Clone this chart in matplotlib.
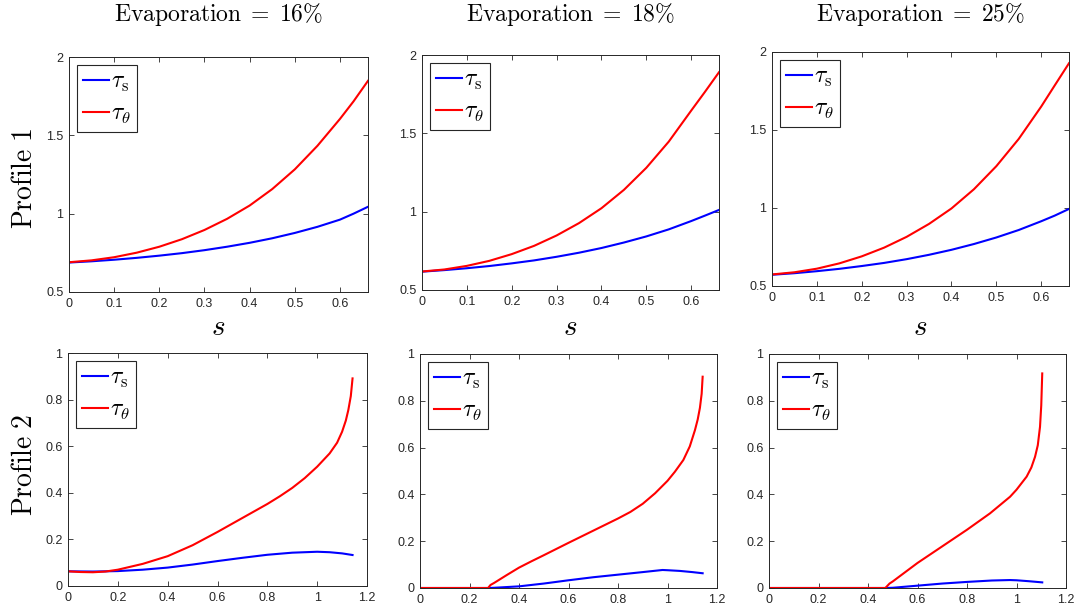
import matplotlib
matplotlib.use("Agg")
import matplotlib.pyplot as plt

plt.rcParams["mathtext.fontset"] = "cm"
plt.rcParams["font.family"] = ["Liberation Sans", "DejaVu Sans"]

evaporation = ["16", "18", "25"]
row_labels = ["Profile 1", "Profile 2"]

# Profile 1 (top row), s from 0 to 0.662
p1_x = [0, 0.05, 0.1, 0.15, 0.2, 0.25, 0.3, 0.35, 0.4, 0.45, 0.5, 0.55, 0.6, 0.63, 0.662]
p1_16_theta = [0.690, 0.702, 0.722, 0.751, 0.789, 0.837, 0.896, 0.967, 1.052, 1.157, 1.283, 1.433, 1.605, 1.717, 1.848]
p1_16_s = [0.688, 0.696, 0.706, 0.718, 0.732, 0.748, 0.767, 0.789, 0.814, 0.843, 0.877, 0.916, 0.962, 1.000, 1.044]
p1_18_theta = [0.618, 0.631, 0.654, 0.686, 0.729, 0.782, 0.848, 0.927, 1.022, 1.139, 1.280, 1.447, 1.645, 1.762, 1.890]
p1_18_s = [0.617, 0.627, 0.639, 0.653, 0.670, 0.689, 0.712, 0.738, 0.768, 0.803, 0.842, 0.887, 0.940, 0.974, 1.011]
p1_25_theta = [0.574, 0.588, 0.611, 0.645, 0.690, 0.746, 0.815, 0.898, 0.997, 1.120, 1.268, 1.443, 1.650, 1.785, 1.928]
p1_25_s = [0.572, 0.582, 0.595, 0.610, 0.628, 0.648, 0.672, 0.700, 0.732, 0.769, 0.811, 0.859, 0.915, 0.951, 0.994]

# Profile 2 (bottom row)
p2_16_theta_x = [0, 0.05, 0.1, 0.15, 0.2, 0.3, 0.4, 0.5, 0.6, 0.7, 0.8, 0.85, 0.9, 0.95, 1.0, 1.05, 1.08, 1.1, 1.115, 1.125, 1.135, 1.142]
p2_16_theta = [0.063, 0.060, 0.059, 0.062, 0.070, 0.095, 0.128, 0.175, 0.232, 0.292, 0.352, 0.385, 0.421, 0.463, 0.512, 0.569, 0.615, 0.662, 0.710, 0.755, 0.815, 0.891]
p2_16_s_x = [0, 0.1, 0.2, 0.3, 0.4, 0.5, 0.6, 0.7, 0.8, 0.9, 1.0, 1.05, 1.1, 1.142]
p2_16_s = [0.063, 0.062, 0.064, 0.070, 0.079, 0.092, 0.107, 0.121, 0.134, 0.143, 0.147, 0.145, 0.140, 0.133]

p2_18_theta_x = [0, 0.275, 0.285, 0.3, 0.35, 0.4, 0.45, 0.5, 0.6, 0.7, 0.8, 0.85, 0.9, 0.95, 1.0, 1.03, 1.064, 1.09, 1.111, 1.122, 1.131, 1.138, 1.142]
p2_18_theta = [0, 0, 0.013, 0.022, 0.055, 0.087, 0.114, 0.140, 0.193, 0.245, 0.297, 0.325, 0.360, 0.405, 0.458, 0.497, 0.547, 0.605, 0.675, 0.720, 0.770, 0.830, 0.903]
p2_18_s_x = [0, 0.275, 0.3, 0.4, 0.5, 0.6, 0.7, 0.8, 0.9, 0.98, 1.0, 1.05, 1.1, 1.142]
p2_18_s = [0, 0, 0.001, 0.007, 0.019, 0.033, 0.046, 0.057, 0.068, 0.077, 0.076, 0.073, 0.068, 0.063]

p2_25_theta_x = [0, 0.47, 0.487, 0.5, 0.6, 0.7, 0.8, 0.893, 0.974, 1.0, 1.041, 1.06, 1.075, 1.086, 1.095, 1.1, 1.104]
p2_25_theta = [0, 0, 0.019, 0.028, 0.107, 0.178, 0.249, 0.319, 0.390, 0.420, 0.476, 0.515, 0.561, 0.610, 0.689, 0.780, 0.917]
p2_25_s_x = [0, 0.47, 0.5, 0.6, 0.7, 0.8, 0.9, 0.974, 1.0, 1.05, 1.104]
p2_25_s = [0, 0, 0.001, 0.010, 0.019, 0.026, 0.032, 0.034, 0.033, 0.029, 0.024]

panels = [
    (p1_x, p1_16_s, p1_x, p1_16_theta),
    (p1_x, p1_18_s, p1_x, p1_18_theta),
    (p1_x, p1_25_s, p1_x, p1_25_theta),
    (p2_16_s_x, p2_16_s, p2_16_theta_x, p2_16_theta),
    (p2_18_s_x, p2_18_s, p2_18_theta_x, p2_18_theta),
    (p2_25_s_x, p2_25_s, p2_25_theta_x, p2_25_theta),
]

W, H = 1080, 610
# axes boxes in pixels: left, top, right, bottom
boxes = [
    (69, 57, 368, 292), (422, 55, 719, 290), (772, 52, 1069, 286),
    (68, 353, 367, 586), (420, 354, 717, 588), (769, 354, 1066, 588),
]
row_label_y = [178, 465]

fig = plt.figure(figsize=(W / 100, H / 100), dpi=100)
ink = "#262626"

for i, (box, (sx, sy, tx, ty)) in enumerate(zip(boxes, panels)):
    l, t, r, b = box
    ax = fig.add_axes([l / W, 1 - b / H, (r - l) / W, (b - t) / H])
    ax.plot(sx, sy, color=(0, 0, 1), lw=1.5, label=r"$\tau_\mathrm{s}$")
    ax.plot(tx, ty, color=(1, 0, 0), lw=1.5, label=r"$\tau_\theta$")
    cx = (l + r) / 2 / W
    if i < 3:
        ax.set_xlim(0, 0.662)
        ax.set_ylim(0.5, 2)
        ax.set_xticks([0, 0.1, 0.2, 0.3, 0.4, 0.5, 0.6])
        ax.set_xticklabels(["0", "0.1", "0.2", "0.3", "0.4", "0.5", "0.6"])
        ax.set_yticks([0.5, 1, 1.5, 2])
        ax.set_yticklabels(["0.5", "1", "1.5", "2"])
        fig.text(cx, 1 - 14 / H, r"$\mathrm{Evaporation}\;=\;%s\%%$" % evaporation[i],
                 fontsize=17, ha="center", va="center")
        fig.text(cx, 1 - 327 / H, r"$s$", fontsize=21, ha="center", va="center")
    else:
        ax.set_xlim(0, 1.2)
        ax.set_ylim(0, 1)
        ax.set_xticks([0, 0.2, 0.4, 0.6, 0.8, 1, 1.2])
        ax.set_xticklabels(["0", "0.2", "0.4", "0.6", "0.8", "1", "1.2"])
        ax.set_yticks([0, 0.2, 0.4, 0.6, 0.8, 1])
        ax.set_yticklabels(["0", "0.2", "0.4", "0.6", "0.8", "1"])
    if i % 3 == 0:
        label = row_labels[i // 3].replace(" ", r"\ ")
        fig.text(25 / W, 1 - row_label_y[i // 3] / H, r"$\mathrm{%s}$" % label,
                 fontsize=20, rotation=90, ha="center", va="center")
    ax.tick_params(direction="in", top=True, right=True, length=3.5, width=0.6,
                   labelsize=9, colors=ink, pad=4)
    for sp in ax.spines.values():
        sp.set_color(ink)
        sp.set_linewidth(0.7)
    leg = ax.legend(loc="upper left", fontsize=17, handlelength=1.1, handletextpad=0.08,
                    borderpad=0.25, labelspacing=0.38, borderaxespad=0.35,
                    fancybox=False, framealpha=1)
    leg.get_frame().set_edgecolor(ink)
    leg.get_frame().set_linewidth(0.8)

fig.savefig("out.png", dpi=100)
